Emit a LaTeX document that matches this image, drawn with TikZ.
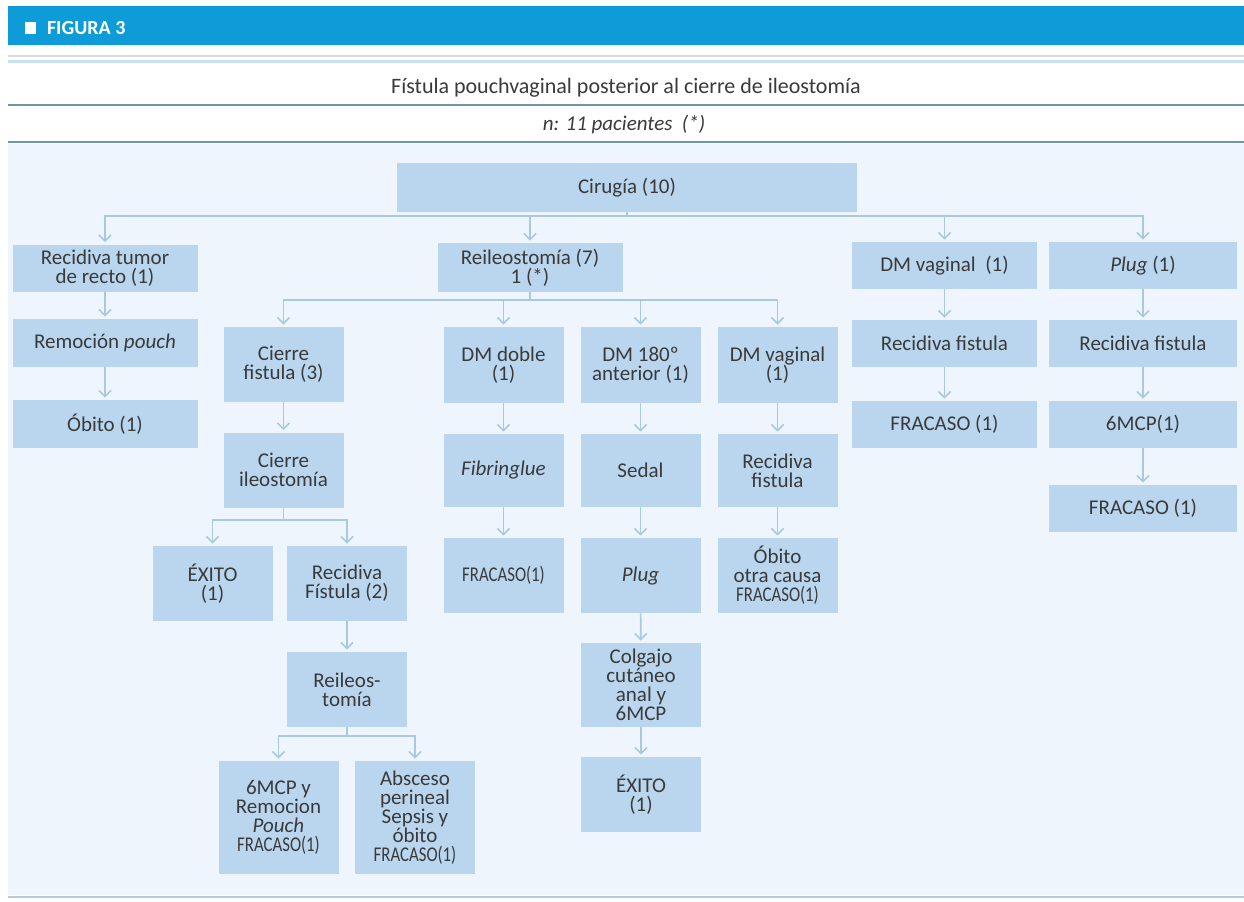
\documentclass[tikz,border=0pt]{standalone}
\usepackage{fontspec}
\setmainfont{Carlito}
\usetikzlibrary{arrows.meta, positioning}
\definecolor{barblue}{HTML}{0E9BD8}
\definecolor{bgblue}{HTML}{EEF5FC}
\definecolor{boxblue}{HTML}{B9D6EE}
\definecolor{arrowblue}{HTML}{A9C9E3}
\definecolor{ruleteal}{HTML}{6C98AC}
\definecolor{rulelight}{HTML}{C6E2F4}
\definecolor{textgrey}{HTML}{3A3A3A}
\newcommand{\narrowtxt}[1]{\scalebox{0.8}[1]{#1}}

\begin{document}
\begin{tikzpicture}[
        x=0.5pt, y=-0.5pt,
        every node/.style={font=\fontsize{10.5}{9.5}\selectfont, text=textgrey},
        box/.style={rectangle, fill=boxblue, inner sep=0pt, align=center},
        widebox/.style={box, minimum width=92.5pt, minimum height=23.5pt},
        narrowbox/.style={box, minimum width=60pt, minimum height=37.5pt},
        arrow/.style={-{Straight Barb[length=3pt, width=6pt]}, draw=arrowblue, line width=0.8pt, shorten >=1pt}
    ]
        \fill[white] (0,0) rectangle (1244,901);
        \useasboundingbox (0,0) rectangle (1244,901);
        % header
        \fill[barblue] (8,6) rectangle (1244,45);
        \fill[white] (25,22) rectangle (36,34);
        \node[anchor=west, text=white, font=\bfseries\fontsize{10}{12}\selectfont] (fig) at (40,28) {FIGURA 3};
        \draw[gray!30, line width=0.8pt] (8,56) -- (1244,56);
        \draw[rulelight, line width=1.5pt] (8,61) -- (1244,61);
        \node[font=\fontsize{11}{13}\selectfont] (title) at (626,88) {Fístula pouchvaginal posterior al cierre de ileostomía};
        \draw[ruleteal, line width=1.2pt] (8,105) -- (1244,105);
        \node[font=\itshape\fontsize{10.5}{12}\selectfont] (npac) at (624,125) {n: 11 pacientes\ \ (*)};
        \draw[ruleteal, line width=1pt] (8,142) -- (1244,142);
        \fill[bgblue] (8,144) rectangle (1244,895);
        \draw[ruleteal!50, line width=1pt] (8,897) -- (1244,897);

        % boxes
        \node[box, minimum width=230pt, minimum height=24.5pt] (cir) at (627,187.5) {Cirugía (10)};
        \node[widebox] (rtr) at (105,268) {Recidiva tumor\\de recto (1)};
        \node[widebox, minimum height=24pt] (rem) at (105,343) {Remoción \textit{pouch}};
        \node[widebox, minimum height=24pt] (obi) at (105,424) {Óbito (1)};
        \node[widebox, minimum height=24.5pt] (rei) at (530,267.5) {Reileostomía (7)\\1 (*)};
        \node[widebox] (dmv) at (944.5,265.5) {DM vaginal\ \ (1)};
        \node[widebox, minimum width=94pt] (plg) at (1143,265.5) {\textit{Plug} (1)};
        \node[widebox] (rf1) at (944.5,343.5) {Recidiva fistula};
        \node[widebox] (fr1) at (944.5,424.5) {FRACASO (1)};
        \node[widebox, minimum width=94pt] (rf2) at (1143,343.5) {Recidiva fistula};
        \node[widebox, minimum width=94pt] (mcp) at (1143,424.5) {6MCP(1)};
        \node[widebox, minimum width=94pt] (fr2) at (1143,508.5) {FRACASO (1)};

        \node[narrowbox] (cfi) at (283.5,364.5) {Cierre\\fistula (3)};
        \node[narrowbox] (cil) at (283.5,470) {Cierre\\ileostomía};
        \node[narrowbox] (exi) at (212.5,583.5) {ÉXITO\\(1)};
        \node[narrowbox] (rfi) at (347,583.5) {Recidiva\\Fístula (2)};
        \node[narrowbox] (rlt) at (347,689.5) {Reileos-\\tomía};
        \node[narrowbox, minimum height=56.5pt] (mcpr) at (278.5,817.5) {6MCP y\\Remocion\\\textit{Pouch}\\\narrowtxt{FRACASO(1)}};
        \node[narrowbox, minimum height=56.5pt] (abs) at (415,817.5) {Absceso\\perineal\\Sepsis y\\óbito\\\narrowtxt{FRACASO(1)}};

        \node[narrowbox, minimum height=38pt] (dmd) at (503.5,365) {DM doble\\(1)};
        \node[narrowbox, minimum height=38pt] (dms) at (640.5,365) {DM 180º\\anterior (1)};
        \node[narrowbox, minimum height=38pt] (dmw) at (777.5,365) {DM vaginal\\(1)};
        \node[narrowbox, minimum height=36.5pt] (fib) at (503.5,470.5) {\textit{Fibringlue}};
        \node[narrowbox, minimum height=36.5pt] (sed) at (640.5,470.5) {Sedal};
        \node[narrowbox, minimum height=36.5pt] (rf3) at (777.5,470.5) {Recidiva\\fistula};
        \node[narrowbox] (fra) at (503.5,575.5) {\narrowtxt{FRACASO(1)}};
        \node[narrowbox] (plu) at (640.5,575.5) {\textit{Plug}};
        \node[narrowbox] (oto) at (777.5,575.5) {Óbito\\otra causa\\\narrowtxt{FRACASO(1)}};
        \node[narrowbox, minimum height=42pt] (col) at (641,685) {Colgajo\\cutáneo\\anal y\\6MCP};
        \node[narrowbox] (ex2) at (641,794.5) {ÉXITO\\(1)};

        % branch points
        \coordinate (cirj) at (627,216);
        \coordinate (reij) at (530,300);
        \coordinate (cilj) at (283.5,520);
        \coordinate (rltj) at (347,736);

        % connectors
        \draw[arrow] (cir.south) -- (cirj) -| (rtr.north);
        \draw[arrow] (cir.south) -- (cirj) -| (rei.north);
        \draw[arrow] (cir.south) -- (cirj) -| (dmv.north);
        \draw[arrow] (cir.south) -- (cirj) -| (plg.north);
        \draw[arrow] (rei.south) -- (reij) -| (cfi.north);
        \draw[arrow] (rei.south) -- (reij) -| (dmd.north);
        \draw[arrow] (rei.south) -- (reij) -| (dms.north);
        \draw[arrow] (rei.south) -- (reij) -| (dmw.north);
        \draw[arrow] (cil.south) -- (cilj) -| (exi.north);
        \draw[arrow] (cil.south) -- (cilj) -| (rfi.north);
        \draw[arrow] (rlt.south) -- (rltj) -| (mcpr.north);
        \draw[arrow] (rlt.south) -- (rltj) -| (abs.north);
        \draw[arrow] (rtr) -- (rem);
        \draw[arrow] (rem) -- (obi);
        \draw[arrow] (cfi) -- (cil);
        \draw[arrow] (rfi) -- (rlt);
        \draw[arrow] (dmd) -- (fib);
        \draw[arrow] (fib) -- (fra);
        \draw[arrow] (dms) -- (sed);
        \draw[arrow] (sed) -- (plu);
        \draw[arrow] (plu) -- (col);
        \draw[arrow] (col) -- (ex2);
        \draw[arrow] (dmw) -- (rf3);
        \draw[arrow] (rf3) -- (oto);
        \draw[arrow] (dmv) -- (rf1);
        \draw[arrow] (rf1) -- (fr1);
        \draw[arrow] (plg) -- (rf2);
        \draw[arrow] (rf2) -- (mcp);
        \draw[arrow] (mcp) -- (fr2);
    \end{tikzpicture}
\end{document}
